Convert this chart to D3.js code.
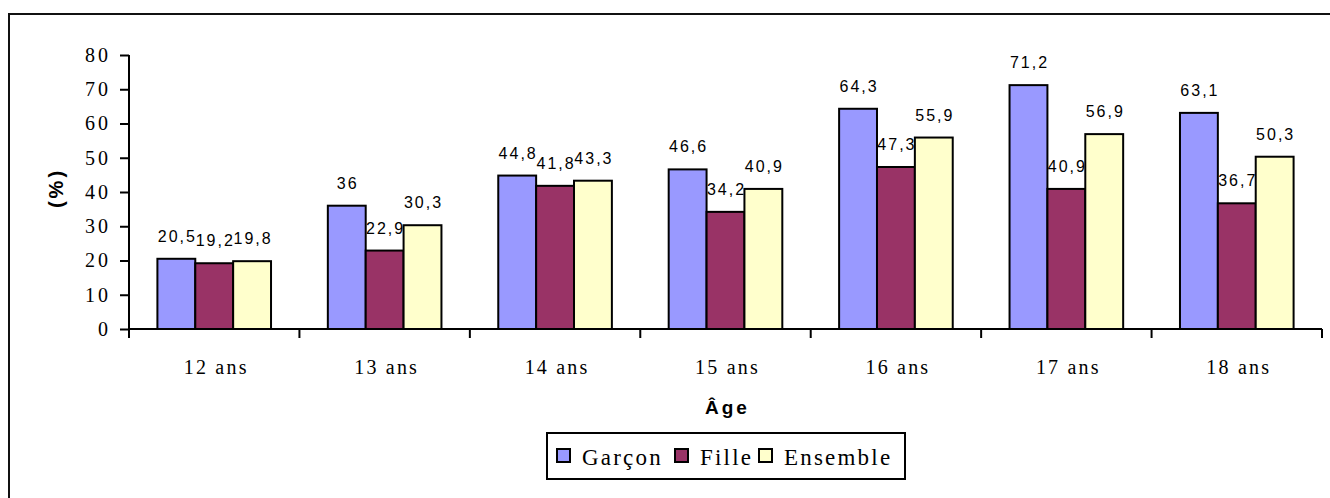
<!DOCTYPE html>
<html>
<head>
<meta charset="utf-8">
<script src="https://cdn.jsdelivr.net/npm/d3@7"></script>
<style>
  body { margin: 0; background: #fff; }
  svg { display: block; }
</style>
</head>
<body>
<div id="chart"></div>
<script>
// data
const ages = ["12 ans", "13 ans", "14 ans", "15 ans", "16 ans", "17 ans", "18 ans"];
const seriesNames = ["Garçon", "Fille", "Ensemble"];
const garcon = [20.5, 36, 44.8, 46.6, 64.3, 71.2, 63.1];
const fille = [19.2, 22.9, 41.8, 34.2, 47.3, 40.9, 36.7];
const ensemble = [19.8, 30.3, 43.3, 40.9, 55.9, 56.9, 50.3];
const yTicks = [0, 10, 20, 30, 40, 50, 60, 70, 80];

const colors = ["#9999ff", "#993366", "#ffffcc"];
const allSeries = [garcon, fille, ensemble];

const width = 1330, height = 498;
const margin = {top: 55, left: 129, right: 8, bottom: 169};
const plotW = width - margin.left - margin.right;
const plotH = height - margin.top - margin.bottom;

const serif = "'Liberation Serif', 'Times New Roman', serif";
const sans = "Arial, 'Liberation Sans', sans-serif";

const svg = d3.select("#chart").append("svg")
    .attr("width", width)
    .attr("height", height);

// outer frame (right and bottom edges fall outside the picture)
svg.append("rect")
    .attr("x", 9).attr("y", 14)
    .attr("width", 1340).attr("height", 520)
    .attr("fill", "none")
    .attr("stroke", "#111")
    .attr("stroke-width", 2);

const g = svg.append("g")
    .attr("transform", "translate(" + margin.left + "," + margin.top + ")");

// scales
const x = d3.scaleBand().domain(ages).range([0, plotW]).padding(0);
const gap = x.bandwidth() * (1.5 / 4.5);
const xs = d3.scaleBand().domain(seriesNames)
    .range([gap / 2, x.bandwidth() - gap / 2]).padding(0);
const y = d3.scaleLinear().domain([0, 80]).range([plotH, 0]);

// bars
const rows = ages.map(function(a, i) {
  return seriesNames.map(function(s, j) {
    return {age: a, series: s, value: allSeries[j][i], color: colors[j]};
  });
});

const groups = g.selectAll(".grp")
  .data(rows)
  .enter().append("g")
    .attr("class", "grp")
    .attr("transform", function(d, i) { return "translate(" + x(ages[i]) + ",0)"; });

groups.selectAll("rect")
  .data(function(d) { return d; })
  .enter().append("rect")
    .attr("x", function(d) { return xs(d.series); })
    .attr("y", function(d) { return y(d.value); })
    .attr("width", xs.bandwidth())
    .attr("height", function(d) { return plotH - y(d.value); })
    .attr("fill", function(d) { return d.color; })
    .attr("stroke", "#000")
    .attr("stroke-width", 2);

// value labels
groups.selectAll("text")
  .data(function(d) { return d; })
  .enter().append("text")
    .attr("x", function(d) { return xs(d.series) + xs.bandwidth() / 2 + 1; })
    .attr("y", function(d) { return y(d.value) - 17; })
    .attr("text-anchor", "middle")
    .style("font-family", sans)
    .style("font-size", "16px")
    .style("letter-spacing", "2px")
    .attr("fill", "#000")
    .text(function(d) { return String(d.value).replace(".", ","); });

// y axis
const yAxis = g.append("g")
    .call(d3.axisLeft(y).tickValues(yTicks).tickSize(9).tickPadding(9));
yAxis.select(".domain").attr("stroke", "#000").attr("stroke-width", 2)
    .attr("d", "M0," + (plotH + 9) + "V0");
yAxis.selectAll(".tick line").attr("stroke", "#000").attr("stroke-width", 2);
yAxis.selectAll(".tick text")
    .style("font-family", serif)
    .style("font-size", "20px")
    .style("letter-spacing", "3px")
    .attr("fill", "#000");

// x axis: line with ticks on category boundaries
g.append("line")
    .attr("x1", 0).attr("x2", plotW)
    .attr("y1", plotH).attr("y2", plotH)
    .attr("stroke", "#000").attr("stroke-width", 2);
g.selectAll(".xtick")
  .data(ages.concat(["end"]))
  .enter().append("line")
    .attr("class", "xtick")
    .attr("x1", function(d, i) { return i * x.step(); })
    .attr("x2", function(d, i) { return i * x.step(); })
    .attr("y1", plotH).attr("y2", plotH + 9)
    .attr("stroke", "#000").attr("stroke-width", 2);
g.selectAll(".xlabel")
  .data(ages)
  .enter().append("text")
    .attr("class", "xlabel")
    .attr("x", function(d) { return x(d) + x.bandwidth() / 2 + 2; })
    .attr("y", plotH + 45)
    .attr("text-anchor", "middle")
    .style("font-family", serif)
    .style("font-size", "20px")
    .style("letter-spacing", "2.2px")
    .text(function(d) { return d; });

// axis titles
svg.append("text")
    .attr("transform", "translate(63," + (margin.top + plotH / 2 - 4) + ") rotate(-90)")
    .attr("text-anchor", "middle")
    .style("font-family", sans)
    .style("font-weight", "bold")
    .style("font-size", "20px")
    .style("letter-spacing", "3px")
    .text("(%)");

svg.append("text")
    .attr("x", margin.left + plotW / 2 + 2)
    .attr("y", 414)
    .attr("text-anchor", "middle")
    .style("font-family", sans)
    .style("font-weight", "bold")
    .style("font-size", "19px")
    .style("letter-spacing", "3px")
    .text("Âge");

// legend
const legend = svg.append("g").attr("transform", "translate(547,433)");
legend.append("rect")
    .attr("width", 358).attr("height", 46)
    .attr("fill", "#fff")
    .attr("stroke", "#000")
    .attr("stroke-width", 2);
const legendX = [10, 128, 212];
const items = legend.selectAll(".item")
  .data(seriesNames)
  .enter().append("g")
    .attr("class", "item")
    .attr("transform", function(d, i) { return "translate(" + legendX[i] + ",0)"; });
items.append("rect")
    .attr("x", 0).attr("y", 16)
    .attr("width", 13).attr("height", 13)
    .attr("fill", function(d, i) { return colors[i]; })
    .attr("stroke", "#000")
    .attr("stroke-width", 2);
items.append("text")
    .attr("x", 25).attr("y", 32)
    .style("font-family", serif)
    .style("font-size", "23px")
    .style("letter-spacing", "2.2px")
    .text(function(d) { return d; });
</script>
</body>
</html>
